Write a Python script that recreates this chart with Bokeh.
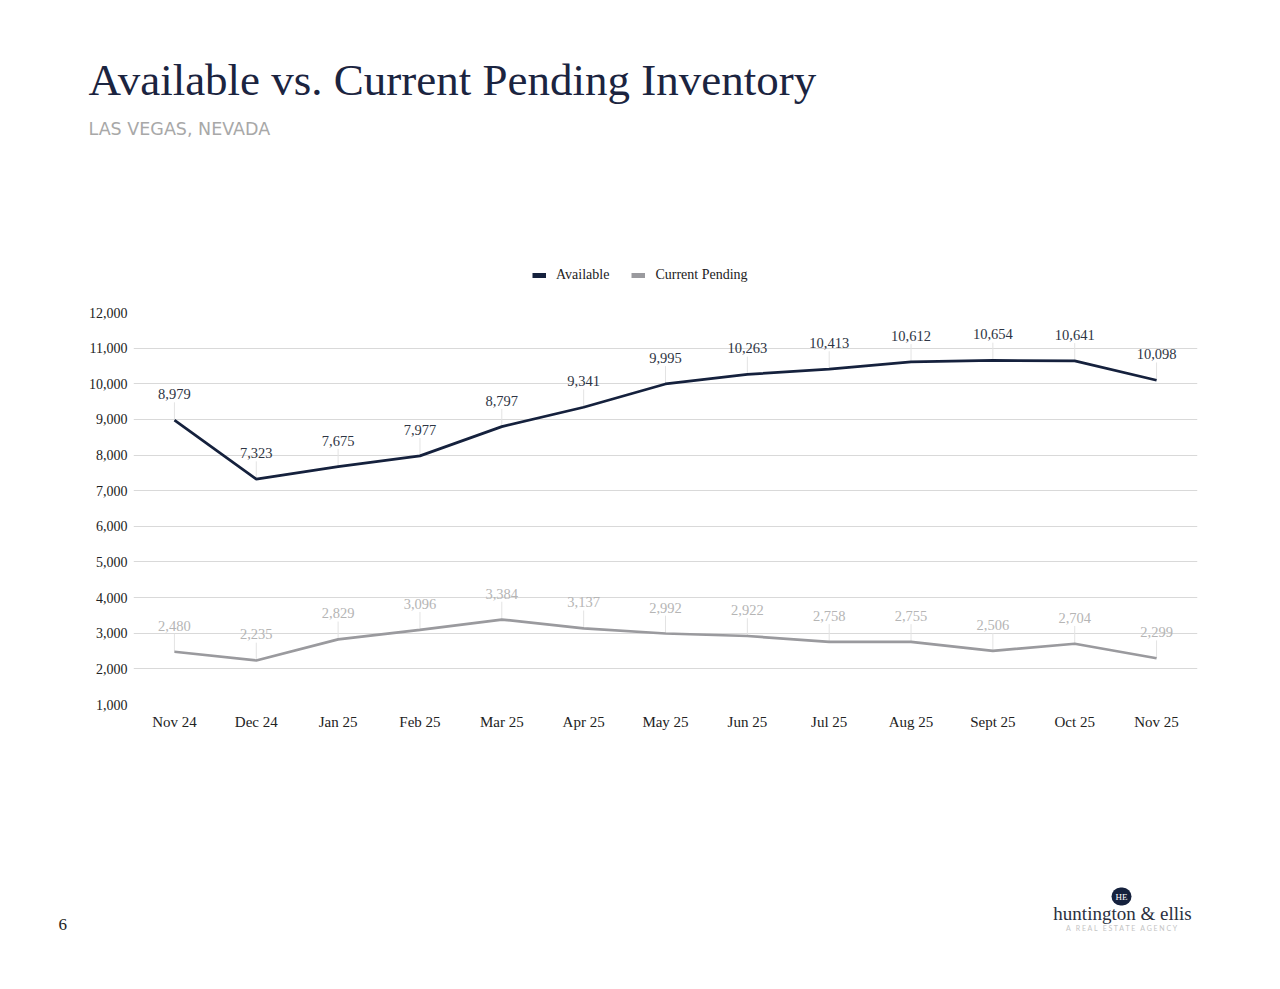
from bokeh.plotting import figure
from bokeh.layouts import column, row
from bokeh.models import (ColumnDataSource, Label, LabelSet, Legend, LegendItem,
                          NumeralTickFormatter, FixedTicker, Range1d)
from bokeh.core.properties import value
from bokeh.embed import file_html
from bokeh.resources import INLINE

months = ["Nov 24", "Dec 24", "Jan 25", "Feb 25", "Mar 25", "Apr 25", "May 25",
          "Jun 25", "Jul 25", "Aug 25", "Sept 25", "Oct 25", "Nov 25"]
available = [8979, 7323, 7675, 7977, 8797, 9341, 9995, 10263, 10413, 10612, 10654, 10641, 10098]
pending = [2480, 2235, 2829, 3096, 3384, 3137, 2992, 2922, 2758, 2755, 2506, 2704, 2299]
y_ticks = list(range(1000, 13000, 1000))

NAVY = "#15213d"
GRAY = "#9a9a9e"
SERIF = "Liberation Serif"
W = 1264
HEAD_H = 292          # page y 0..292
TOP_B, FRAME_H, BOT_B = 20, 392, 40   # chart: page y 292..744
FOOT_TOP, FOOT_BOT = 744, 980


def blank(height, y0, y1):
    f = figure(width=W, height=height, x_range=Range1d(0, W), y_range=Range1d(y1, y0),
               output_backend="svg", toolbar_location=None, title=None,
               x_axis_location=None, y_axis_location=None,
               min_border=0, min_border_left=0, min_border_right=0,
               min_border_top=0, min_border_bottom=0,
               outline_line_color=None, background_fill_color="white",
               border_fill_color="white")
    f.xgrid.visible = False
    f.ygrid.visible = False
    return f


def put(fig, bottom, text, x, y, **kw):
    # x in page pixels (data units), y = page pixel of the text's middle
    fig.add_layout(Label(x=x, y=bottom - y, y_units="screen", text=text,
                         text_baseline="middle", **kw))


# ---------- header ----------
head = blank(HEAD_H, 0, HEAD_H)
put(head, HEAD_H, "Available vs. Current Pending Inventory", 88, 79,
    text_font=SERIF, text_font_size="45px", text_color="#1b2440")
put(head, HEAD_H, "LAS VEGAS, NEVADA", 88, 128, text_font="DejaVu Sans",
    text_font_size="17.5px", text_color="#a8a8a8")
sw_a = head.line(x=[-200, -100], y=[-200, -200], line_color=NAVY, line_width=5)
sw_p = head.line(x=[-200, -100], y=[-200, -200], line_color=GRAY, line_width=5)
legend = Legend(items=[LegendItem(label="Available", renderers=[sw_a]),
                       LegendItem(label="Current Pending", renderers=[sw_p])],
                orientation="horizontal", location=(532, 9),
                glyph_width=14, glyph_height=16, label_height=16,
                label_text_font=SERIF, label_text_font_size="14px",
                label_text_color="#222222", label_standoff=10, spacing=22,
                padding=0, margin=0, border_line_color=None,
                background_fill_alpha=0)
head.add_layout(legend)

# ---------- chart ----------
p = figure(x_range=months, y_range=Range1d(1000, 12000), width=W,
           height=TOP_B + FRAME_H + BOT_B,
           output_backend="svg", toolbar_location=None,
           min_border_left=133, min_border_right=W - 1197, min_border_top=TOP_B,
           min_border_bottom=BOT_B, background_fill_color="white",
           border_fill_color="white", outline_line_color=None)

p.xgrid.grid_line_color = None
p.ygrid.grid_line_color = "#d9d9d9"
p.ygrid.grid_line_width = 1
p.yaxis.ticker = FixedTicker(ticks=y_ticks)
p.yaxis.formatter = NumeralTickFormatter(format="0,0")
for ax in (p.xaxis[0], p.yaxis[0]):
    ax.axis_line_color = None
    ax.major_tick_line_color = None
    ax.minor_tick_line_color = None
    ax.major_tick_out = 0
    ax.major_tick_in = 0
    ax.major_label_text_font = SERIF
    ax.major_label_text_color = "#222222"
p.yaxis.major_label_text_font_size = "14px"
p.xaxis.major_label_text_font_size = "15px"
p.yaxis.major_label_standoff = 6
p.xaxis.major_label_standoff = 9

src = ColumnDataSource(dict(
    m=months, a=available, pe=pending,
    a_top=[v + 500 for v in available], p_top=[v + 500 for v in pending],
    a_txt=[f"{v:,}" for v in available], p_txt=[f"{v:,}" for v in pending]))

p.segment(x0="m", y0="a", x1="m", y1="a_top", source=src, line_color="#e3e3e3", line_width=1)
p.segment(x0="m", y0="pe", x1="m", y1="p_top", source=src, line_color="#e3e3e3", line_width=1)

p.line("m", "a", source=src, line_color=NAVY, line_width=2.7)
p.line("m", "pe", source=src, line_color=GRAY, line_width=2.7)

p.add_layout(LabelSet(x="m", y="a", text="a_txt", source=src, y_offset=26,
                      text_align="center", text_baseline="middle",
                      text_font=value(SERIF), text_font_size="14.5px",
                      text_color="#2e3544"))
p.add_layout(LabelSet(x="m", y="pe", text="p_txt", source=src, y_offset=26,
                      text_align="center", text_baseline="middle",
                      text_font=value(SERIF), text_font_size="14.5px",
                      text_color="#b5b5b5"))

# ---------- footer ----------
foot = blank(FOOT_BOT - FOOT_TOP, FOOT_TOP, FOOT_BOT)
put(foot, FOOT_BOT, "6", 58, 924, text_font=SERIF, text_font_size="17px",
    text_color="#222222")
put(foot, FOOT_BOT, "HE", 1121, 896, text_font=SERIF, text_font_size="9px",
    text_color="white", text_align="center",
    background_fill_color=NAVY, padding=4, border_radius=9)
put(foot, FOOT_BOT, "huntington & ellis", 1122, 913, text_font=SERIF,
    text_font_size="19px", text_color="#2b3040", text_align="center")
put(foot, FOOT_BOT,
    "\u00a0".join("A REAL ESTATE AGENCY").replace("\u00a0 \u00a0", "\u00a0\u00a0\u00a0"),
    1121, 927, text_font="Lato", text_font_size="7px", text_color="#c4c4c4",
    text_align="center")

layout = column(row(head), p, row(foot), spacing=0)
open("out.html", "w").write(file_html(layout, INLINE))
